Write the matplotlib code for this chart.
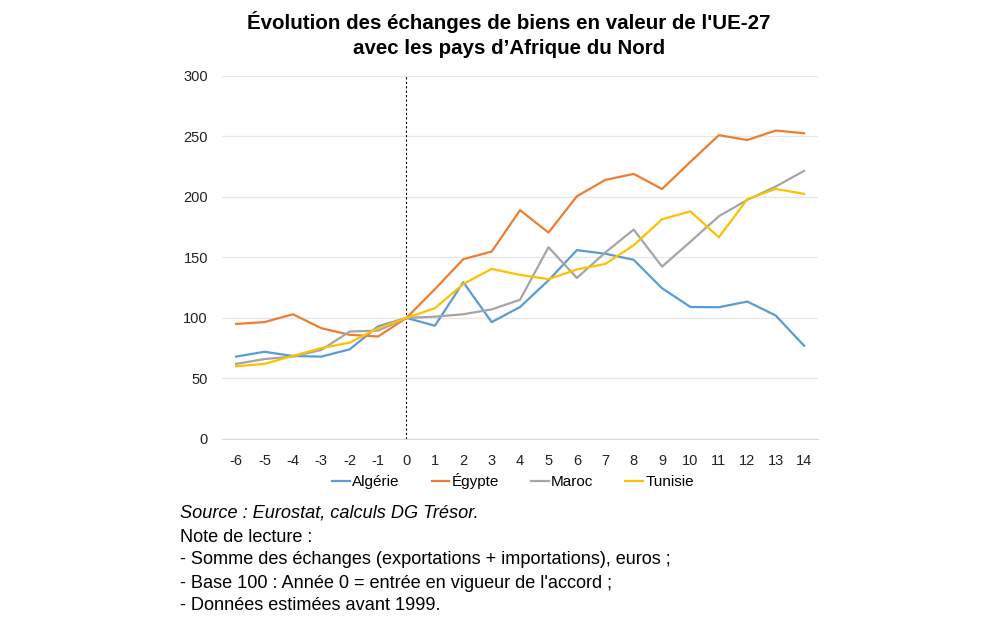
import matplotlib
matplotlib.use("Agg")
import matplotlib.pyplot as plt
from matplotlib.lines import Line2D

plt.rcParams['font.family'] = ['Liberation Sans', 'DejaVu Sans']
plt.rcParams['axes.unicode_minus'] = False

years = list(range(-6, 15))
algerie = [68, 72, 68.5, 68, 74, 93, 100, 93.5, 129.5, 96.5, 109, 131, 156, 153, 148, 124.5, 109, 108.8, 113.5, 102, 77]
egypte = [95, 96.5, 103, 91.5, 86, 84.6, 100, 123.7, 148.5, 154.8, 189, 170.5, 200.5, 214, 219, 206.5, 229, 251, 247, 254.8, 252.6]
maroc = [62, 66, 68, 73.5, 88.7, 89.5, 100, 101, 103, 107, 115, 158.4, 133, 154, 173, 142.4, 163, 184, 197.5, 208.5, 221.5]
tunisie = [60, 62, 68.6, 75, 79.6, 91.5, 100, 108, 128, 140.5, 135.5, 132, 140, 144.6, 160, 181.5, 188, 166.6, 198, 206.6, 202.5]

series = [("Algérie", algerie, "#5B9BD5"),
          ("Égypte", egypte, "#ED7D31"),
          ("Maroc", maroc, "#A5A5A5"),
          ("Tunisie", tunisie, "#FFC000")]

fig = plt.figure(figsize=(10.04, 6.27), dpi=100)
ax = fig.add_axes([0.221, 0.300, 0.594, 0.579])

for name, vals, col in series:
    ax.plot(years, vals, color=col, lw=1.6, label=name, solid_joinstyle='round')

ax.axvline(0, color='black', lw=0.8, ls=(0, (2, 2)), zorder=1)

ax.set_xlim(-6.5, 14.5)
ax.set_ylim(0, 300)
ax.set_yticks(range(0, 301, 50))
ax.set_xticks(years)
ax.grid(axis='y', color='#e6e6e6', lw=0.9)
ax.set_axisbelow(True)
for s in ['top', 'right', 'left']:
    ax.spines[s].set_visible(False)
ax.spines['bottom'].set_color('#d9d9d9')
ax.tick_params(axis='both', length=0, labelsize=10.5, colors='#222222')
ax.tick_params(axis='x', pad=11)
ax.tick_params(axis='y', pad=10)

fig.text(0.507, 1 - 11 / 627, "Évolution des échanges de biens en valeur de l'UE-27\navec les pays d’Afrique du Nord",
         ha='center', va='top', fontsize=14.8, fontweight='bold', linespacing=1.42)

handles = [Line2D([0], [0], color=c, lw=1.6) for _, _, c in series]
fig.legend(handles, [n for n, _, _ in series], loc='center', bbox_to_anchor=(0.511, 0.233),
           ncol=4, frameon=False, fontsize=11, handlelength=1.15, handletextpad=0.15,
           columnspacing=2.1)

fig.text(0.179, 1 - 513 / 627, "Source : Eurostat, calculs DG Trésor.", fontsize=13.1, style='italic', va='center')
notes = ["Note de lecture :",
         "- Somme des échanges (exportations + importations), euros ;",
         "- Base 100 : Année 0 = entrée en vigueur de l'accord ;",
         "- Données estimées avant 1999."]
for i, t in enumerate(notes):
    fig.text(0.179, 1 - (537 + 23 * i) / 627, t, fontsize=13.1, va='center')

fig.savefig("out.png", dpi=100)
